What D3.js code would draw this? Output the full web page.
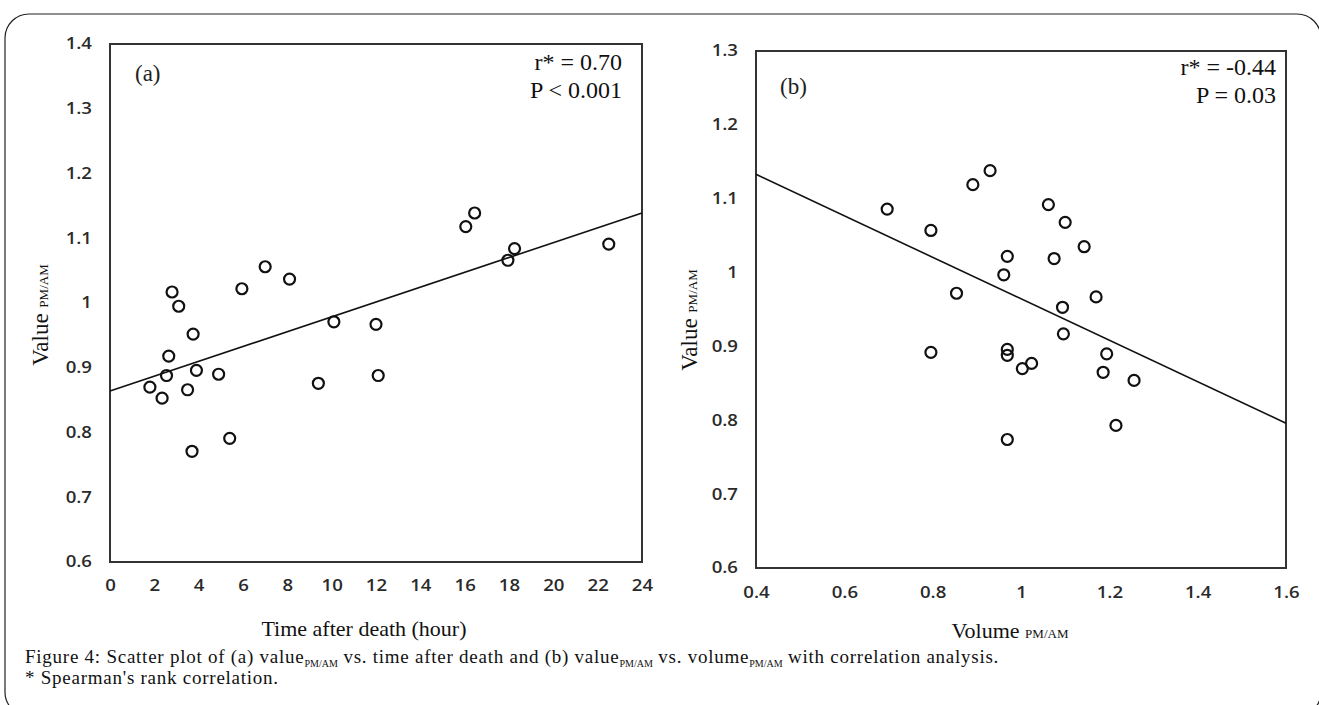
<!DOCTYPE html>
<html>
<head>
<meta charset="utf-8">
<script src="https://cdn.jsdelivr.net/npm/d3@7"></script>
<style>
  body { margin: 0; background: #fff; }
  svg { display: block; }
</style>
</head>
<body>
<div id="chart"></div>
<script>
// panel (a): value PM/AM vs time after death
const timeA = [1.8, 2.35, 2.55, 2.65, 2.8, 3.1, 3.5, 3.75, 3.7, 3.9, 4.9, 5.4, 5.95, 7.0, 8.1, 9.4, 10.1, 12.0, 12.1, 16.05, 16.45, 17.95, 18.25, 22.5];
const valueA = [0.870, 0.853, 0.888, 0.918, 1.017, 0.995, 0.866, 0.952, 0.771, 0.896, 0.890, 0.791, 1.022, 1.056, 1.037, 0.876, 0.971, 0.967, 0.888, 1.118, 1.139, 1.066, 1.084, 1.091];
const fitA = [[0, 0.864], [24, 1.139]];
const xTicksA = [0, 2, 4, 6, 8, 10, 12, 14, 16, 18, 20, 22, 24];
const yTicksA = [0.6, 0.7, 0.8, 0.9, 1.0, 1.1, 1.2, 1.3, 1.4];

// panel (b): value PM/AM vs volume PM/AM
const volumeB = [0.697, 0.796, 0.891, 0.930, 0.854, 0.796, 1.062, 1.100, 1.143, 0.969, 0.961, 1.075, 1.170, 1.094, 1.096, 0.969, 0.969, 1.003, 1.024, 1.194, 1.186, 1.256, 1.215, 0.969];
const valueB = [1.086, 1.057, 1.119, 1.138, 0.972, 0.892, 1.092, 1.068, 1.035, 1.022, 0.997, 1.019, 0.967, 0.953, 0.917, 0.896, 0.888, 0.870, 0.877, 0.890, 0.865, 0.854, 0.793, 0.774];
const fitB = [[0.4, 1.133], [1.6, 0.796]];
const xTicksB = [0.4, 0.6, 0.8, 1.0, 1.2, 1.4, 1.6];
const yTicksB = [0.6, 0.7, 0.8, 0.9, 1.0, 1.1, 1.2, 1.3];

const W = 1319, H = 705;
const serif = "'Liberation Serif', 'Times New Roman', serif";
const sans = "'Open Sans', 'DejaVu Sans', sans-serif";
const stretch = 1.2; // tick labels in the source are drawn wide

const svg = d3.select("#chart").append("svg")
  .attr("width", W)
  .attr("height", H);

// rounded page frame
svg.append("rect")
  .attr("x", 5).attr("y", 14)
  .attr("width", 1316).attr("height", 702)
  .attr("rx", 24).attr("ry", 24)
  .attr("fill", "none")
  .attr("stroke", "#222")
  .attr("stroke-width", 1.2);

const fmt = (d) => String(+d.toFixed(1));

const drawPanel = (p) => {
  const x = d3.scaleLinear().domain(p.xDomain).range([p.left, p.right]);
  const y = d3.scaleLinear().domain(p.yDomain).range([p.bottom, p.top]);
  const g = svg.append("g");

  // x axis
  const gx = g.append("g")
    .attr("transform", `translate(0,${p.bottom})`)
    .call(d3.axisBottom(x).tickValues(p.xTicks).tickFormat(fmt).tickSize(0).tickPadding(p.xPad));
  // y axis
  const gy = g.append("g")
    .attr("transform", `translate(${p.left},0)`)
    .call(d3.axisLeft(y).tickValues(p.yTicks).tickFormat(fmt).tickSize(0).tickPadding(p.yPad));
  [gx, gy].forEach((a) => {
    a.select(".domain").remove();
    a.selectAll("text")
      .attr("fill", "#2a2a2a")
      .style("font-family", sans)
      .style("font-size", "15.5px")
      .style("font-weight", 600);
  });
  gx.selectAll("text").attr("transform", `scale(${stretch},1)`);
  gy.selectAll("text")
    .attr("x", -p.yPad / stretch)
    .attr("transform", `scale(${stretch},1)`);

  // plot frame
  g.append("rect")
    .attr("x", p.left).attr("y", p.top)
    .attr("width", p.right - p.left)
    .attr("height", p.bottom - p.top)
    .attr("fill", "none")
    .attr("stroke", "#333")
    .attr("stroke-width", 2);

  // regression line
  g.append("line")
    .attr("x1", x(p.fit[0][0])).attr("y1", y(p.fit[0][1]))
    .attr("x2", x(p.fit[1][0])).attr("y2", y(p.fit[1][1]))
    .attr("stroke", "#111")
    .attr("stroke-width", 1.6);

  // points
  g.selectAll("circle")
    .data(p.xs.map((v, i) => [v, p.ys[i]]))
    .join("circle")
    .attr("cx", (d) => x(d[0]))
    .attr("cy", (d) => y(d[1]))
    .attr("r", 5.5)
    .attr("fill", "none")
    .attr("stroke", "#111")
    .attr("stroke-width", 2.2);

  // panel letter
  g.append("text")
    .attr("x", p.left + p.tagDx).attr("y", p.top + p.tagDy)
    .attr("fill", "#222")
    .style("font-family", serif).style("font-size", "23px")
    .text(p.tag);

  // statistics
  p.stats.forEach((s, i) => {
    g.append("text")
      .attr("x", p.statX)
      .attr("y", p.top + p.statDy + i * 28)
      .attr("text-anchor", "end")
      .attr("fill", "#111")
      .style("font-family", serif).style("font-size", "24px")
      .text(s);
  });

  // y title
  const yt = g.append("text")
    .attr("transform", `translate(${p.yTitleX},${p.yTitleY}) rotate(-90)`)
    .attr("text-anchor", "middle")
    .attr("fill", "#111")
    .style("font-family", serif).style("font-size", "23px");
  yt.append("tspan").text("Value ");
  yt.append("tspan").style("font-size", "13px").text("PM/AM");

  // x title
  const xt = g.append("text")
    .attr("x", p.xTitleX).attr("y", p.xTitleY)
    .attr("text-anchor", "middle")
    .attr("fill", "#111")
    .style("font-family", serif).style("font-size", "22px");
  p.xTitle.forEach((t) => {
    xt.append("tspan").style("font-size", t[1] + "px").text(t[0]);
  });
};

drawPanel({
  xs: timeA, ys: valueA, fit: fitA,
  xDomain: [0, 24], yDomain: [0.6, 1.4],
  xTicks: xTicksA, yTicks: yTicksA,
  left: 110, right: 642, top: 44, bottom: 562,
  xPad: 18, yPad: 18,
  tag: "(a)", tagDx: 25, tagDy: 37,
  stats: ["r* = 0.70", "P < 0.001"], statX: 622, statDy: 26,
  yTitleX: 48, yTitleY: 315,
  xTitle: [["Time after death (hour)", 22]], xTitleX: 364, xTitleY: 636
});

drawPanel({
  xs: volumeB, ys: valueB, fit: fitB,
  xDomain: [0.4, 1.6], yDomain: [0.6, 1.3],
  xTicks: xTicksB, yTicks: yTicksB,
  left: 756, right: 1286, top: 51, bottom: 568,
  xPad: 19, yPad: 18,
  tag: "(b)", tagDx: 24, tagDy: 43,
  stats: ["r* = -0.44", "P = 0.03"], statX: 1276, statDy: 24,
  yTitleX: 697, yTitleY: 320,
  xTitle: [["Volume ", 22], ["PM/AM", 13]], xTitleX: 1010, xTitleY: 638
});

// caption
const cap = svg.append("text")
  .attr("x", 25).attr("y", 663)
  .style("font-family", serif).style("font-size", "19px")
  .style("letter-spacing", "0.75px")
  .attr("fill", "#111");
const sub = (t) => cap.append("tspan").attr("dy", 4).style("font-size", "10px").style("letter-spacing", "0px").text(t);
const norm = (t) => cap.append("tspan").attr("dy", -4).style("letter-spacing", "0.75px").text(t);
cap.append("tspan").text("Figure 4: Scatter plot of (a) value");
sub("PM/AM");
norm(" vs. time after death and (b) value");
sub("PM/AM");
norm(" vs. volume");
sub("PM/AM");
norm(" with correlation analysis.");

svg.append("text")
  .attr("x", 25).attr("y", 684)
  .style("font-family", serif).style("font-size", "19px")
  .style("letter-spacing", "0.75px")
  .attr("fill", "#111")
  .text("* Spearman's rank correlation.");
</script>
</body>
</html>
